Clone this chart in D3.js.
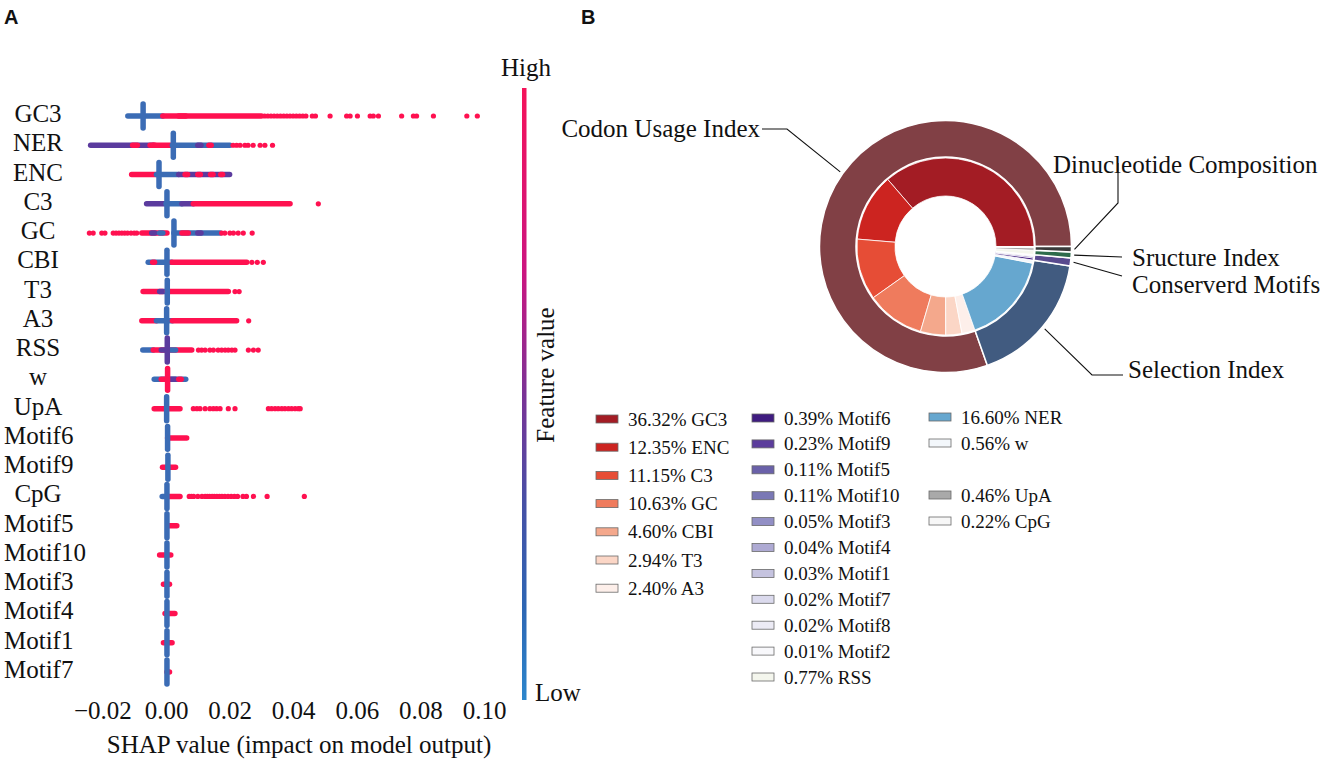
<!DOCTYPE html>
<html>
<head>
<meta charset="utf-8">
<script src="https://cdn.jsdelivr.net/npm/d3@7"></script>
<style>
body { margin: 0; background: #fff; }
svg text { font-family: "Liberation Serif", "Times New Roman", serif; fill: #111; }
svg text.panel { font-family: "Liberation Sans", Arial, sans-serif; font-weight: bold; }
</style>
</head>
<body>
<svg id="chart" width="1325" height="767"></svg>
<script>
// ---- panel A: SHAP summary ----
const features = ['GC3', 'NER', 'ENC', 'C3', 'GC', 'CBI', 'T3', 'A3', 'RSS', 'w', 'UpA',
    'Motif6', 'Motif9', 'CpG', 'Motif5', 'Motif10', 'Motif3', 'Motif4', 'Motif1', 'Motif7'];
const shapTicks = [-0.02, 0.00, 0.02, 0.04, 0.06, 0.08, 0.10];

// dense runs of points per feature: [from, to, tone]  (tone: hi / mid / lo feature value)
const bands = [
    [[-0.0120, -0.0010, 'lo'], [-0.0010, 0.0300, 'hi'], [0.0040, 0.0062, 'hi']],
    [[-0.0237, -0.0040, 'mid'], [-0.0105, -0.0090, 'hi'], [-0.0050, -0.0035, 'hi'], [-0.0040, 0.0020, 'hi'], [0.0020, 0.0201, 'lo'], [0.0100, 0.0110, 'mid'], [0.0135, 0.0142, 'hi']],
    [[-0.0108, -0.0030, 'hi'], [-0.0030, 0.0040, 'lo'], [0.0040, 0.0200, 'mid'], [0.0060, 0.0068, 'hi'], [0.0100, 0.0108, 'hi'], [0.0140, 0.0148, 'hi'], [0.0172, 0.0178, 'hi']],
    [[-0.0061, 0.0000, 'mid'], [0.0000, 0.0050, 'lo'], [0.0050, 0.0086, 'mid'], [0.0086, 0.0390, 'hi']],
    [[-0.0076, 0.0003, 'hi'], [-0.0045, -0.0035, 'mid'], [-0.0020, -0.0010, 'lo'], [0.0025, 0.0170, 'lo'], [0.0050, 0.0070, 'hi'], [0.0100, 0.0110, 'mid']],
    [[-0.0056, 0.0018, 'lo'], [-0.0042, -0.0036, 'hi'], [0.0018, 0.0254, 'hi']],
    [[-0.0072, -0.0010, 'hi'], [-0.0020, 0.0010, 'mid'], [0.0004, 0.0196, 'hi']],
    [[-0.0076, -0.0030, 'hi'], [-0.0030, 0.0020, 'lo'], [0.0020, 0.0222, 'hi']],
    [[-0.0073, -0.0040, 'lo'], [-0.0040, 0.0081, 'hi'], [-0.0015, -0.0005, 'mid'], [0.0015, 0.0030, 'lo']],
    [[-0.0037, 0.0062, 'lo'], [-0.0015, 0.0000, 'hi'], [0.0015, 0.0030, 'mid'], [0.0040, 0.0048, 'hi']],
    [[-0.0037, 0.0044, 'hi']],
    [[0.0005, 0.0065, 'hi']],
    [[-0.0011, 0.0030, 'hi']],
    [[-0.0012, 0.0000, 'lo'], [0.0006, 0.0044, 'hi']],
    [[0.0006, 0.0034, 'hi']],
    [[-0.0020, 0.0015, 'hi']],
    [[-0.0008, 0.0011, 'hi']],
    [[-0.0003, 0.0028, 'hi']],
    [[-0.0008, 0.0019, 'hi']],
    [[0.0003, 0.0011, 'hi']],
];

// where most points stack up, how tall that stack is (relative), and its dominant tone
const pileCenter = [-0.0072, 0.0023, -0.0022, 0.0003, 0.0025, 0.0003, 0.0004, 0.0002, 0.0004, 0.0005,
    0.0002, 0.0005, 0.0006, 0.0003, 0.0003, 0.0003, 0.0003, 0.0003, 0.0003, 0.0003];
const pileHeight = [1, 1, 1, 1, 1, 1, 0.95, 1, 1, 0.9, 1, 0.95, 1, 1, 1, 1, 1, 1, 1, 1];
const pileTone = ['lo', 'lo', 'lo', 'lo', 'lo', 'lo', 'lo', 'lo', 'mid', 'hi',
    'lo', 'lo', 'lo', 'lo', 'lo', 'lo', 'lo', 'lo', 'lo', 'lo'];

// scattered single points (all high feature value)
const dots = [
    [0.031, 0.032, 0.033, 0.034, 0.035, 0.036, 0.037, 0.038, 0.039, 0.040, 0.041, 0.042, 0.043, 0.044, 0.046, 0.047,
        0.0516, 0.0568, 0.0579, 0.0602, 0.0642, 0.0652, 0.0668, 0.0741, 0.0778, 0.0788, 0.0841, 0.0946, 0.0979],
    [0.0211, 0.0222, 0.0233, 0.0248, 0.0258, 0.0274, 0.0296, 0.0311, 0.0335],
    [],
    [0.0479],
    [-0.0241, -0.0229, -0.0202, -0.0192, -0.0166, -0.0157, -0.0148, -0.0139, -0.0130, -0.0121, -0.0110, -0.0100, -0.0092,
        0.0175, 0.0185, 0.0201, 0.0212, 0.0227, 0.0243, 0.0271],
    [0.0270, 0.0287, 0.0306],
    [0.0217, 0.0230],
    [0.0260],
    [0.0102, 0.0112, 0.0123, 0.0138, 0.0149, 0.0164, 0.0175, 0.0186, 0.0196, 0.0207, 0.0217, 0.0259, 0.0275, 0.0290],
    [],
    [0.0086, 0.0097, 0.0107, 0.0123, 0.0138, 0.0149, 0.0159, 0.0170, 0.0196, 0.0217,
        0.0322, 0.0332, 0.0343, 0.0353, 0.0364, 0.0374, 0.0385, 0.0395, 0.0406, 0.0416, 0.0422],
    [],
    [],
    [0.0073, 0.0080, 0.0087, 0.0100, 0.0113, 0.0123, 0.0130, 0.0137, 0.0145, 0.0152, 0.0160, 0.0168, 0.0176,
        0.0185, 0.0195, 0.0205, 0.0215, 0.0225, 0.0242, 0.0253, 0.0275, 0.0318, 0.0435],
    [], [], [], [], [], [],
];

// ---- panel B: importance donut ----
const subNames = ['GC3', 'ENC', 'C3', 'GC', 'CBI', 'T3', 'A3', 'NER', 'w',
    'Motif6', 'Motif9', 'Motif5', 'Motif10', 'Motif3', 'Motif4', 'Motif1', 'Motif7', 'Motif8', 'Motif2',
    'RSS', 'UpA', 'CpG'];
const subShares = [36.32, 12.35, 11.15, 10.63, 4.60, 2.94, 2.40, 16.60, 0.56,
    0.39, 0.23, 0.11, 0.11, 0.05, 0.04, 0.03, 0.02, 0.02, 0.01,
    0.77, 0.46, 0.22];
const subGroups = ['Codon Usage Index', 'Codon Usage Index', 'Codon Usage Index', 'Codon Usage Index',
    'Codon Usage Index', 'Codon Usage Index', 'Codon Usage Index', 'Selection Index', 'Selection Index',
    'Conserverd Motifs', 'Conserverd Motifs', 'Conserverd Motifs', 'Conserverd Motifs', 'Conserverd Motifs',
    'Conserverd Motifs', 'Conserverd Motifs', 'Conserverd Motifs', 'Conserverd Motifs', 'Conserverd Motifs',
    'Sructure Index', 'Dinucleotide Composition', 'Dinucleotide Composition'];
const groupNames = ['Codon Usage Index', 'Selection Index', 'Conserverd Motifs', 'Sructure Index', 'Dinucleotide Composition'];
// legend columns (lists of subNames)
const legendColumns = [
    ['GC3', 'ENC', 'C3', 'GC', 'CBI', 'T3', 'A3'],
    ['Motif6', 'Motif9', 'Motif5', 'Motif10', 'Motif3', 'Motif4', 'Motif1', 'Motif7', 'Motif8', 'Motif2', 'RSS'],
    ['NER', 'w', null, 'UpA', 'CpG'],
];

// styles
const toneColor = { hi: '#ff1150', mid: '#5b3b9e', lo: '#3b6cb5' };
const subColor = {
    GC3: '#a31c24', ENC: '#cc2420', C3: '#e64d36', GC: '#ef7b5d', CBI: '#f4a88c', T3: '#fbd6c6', A3: '#fdefea',
    NER: '#66a7cf', w: '#f3f7fb',
    Motif6: '#3f1c80', Motif9: '#5c3d9c', Motif5: '#6a61a9', Motif10: '#7a78b5', Motif3: '#928fc5',
    Motif4: '#aeaad3', Motif1: '#c5c3df', Motif7: '#dbdaed', Motif8: '#ecebf5', Motif2: '#f8f8fb',
    RSS: '#f4f6ed', UpA: '#a9a9a9', CpG: '#f7f7f7',
};
const groupColor = {
    'Codon Usage Index': '#814045', 'Selection Index': '#415b80', 'Conserverd Motifs': '#584a8e',
    'Sructure Index': '#2d6b4b', 'Dinucleotide Composition': '#3a3a3a',
};

const svg = d3.select('#chart');

// panel letters
svg.append('text').attr('class', 'panel').attr('x', 4).attr('y', 24).attr('font-size', 20).text('A');
svg.append('text').attr('class', 'panel').attr('x', 581).attr('y', 24).attr('font-size', 20).text('B');

// ---------- A ----------
const x = d3.scaleLinear().domain([0, 0.1]).range([166, 484]);
const y = d3.scalePoint().domain(features).range([116, 672]);
const pileScale = d3.scaleLinear().domain([0, 1]).range([0, 24]);

const gA = svg.append('g');

features.forEach((f, i) => {
    const row = gA.append('g');
    bands[i].forEach(([a, b, tone]) => {
        row.append('line')
            .attr('x1', x(a)).attr('x2', x(b))
            .attr('y1', y(f)).attr('y2', y(f))
            .attr('stroke', toneColor[tone])
            .attr('stroke-width', 5.5)
            .attr('stroke-linecap', 'round');
    });
    const h = pileScale(pileHeight[i]);
    row.append('line')
        .attr('x1', x(pileCenter[i])).attr('x2', x(pileCenter[i]))
        .attr('y1', y(f) - h / 2).attr('y2', y(f) + h / 2)
        .attr('stroke', toneColor[pileTone[i]])
        .attr('stroke-width', 5.5)
        .attr('stroke-linecap', 'round');
    row.selectAll('circle')
        .data(dots[i])
        .join('circle')
        .attr('cx', (d) => x(d))
        .attr('cy', y(f))
        .attr('r', 2.6)
        .attr('fill', toneColor.hi);
});

// feature labels
gA.selectAll('text.feat')
    .data(features)
    .join('text')
    .attr('class', 'feat')
    .attr('font-size', 25)
    .attr('y', (d) => y(d) + 6)
    .text((d) => d)
    .each(function () {
        const w = this.getComputedTextLength();
        d3.select(this).attr('x', Math.max(4, 38 - w / 2));
    });

// x axis
const xAxis = d3.axisBottom(x)
    .tickValues(shapTicks)
    .tickFormat(d3.format('.2f'))
    .tickSize(0)
    .tickPadding(6);
const axisG = gA.append('g').attr('transform', 'translate(0,695)').call(xAxis);
axisG.select('.domain').remove();
axisG.selectAll('text')
    .attr('font-size', 25)
    .attr('font-family', '"Liberation Serif", "Times New Roman", serif')
    .attr('fill', '#111');

gA.append('text')
    .attr('x', 299).attr('y', 753)
    .attr('text-anchor', 'middle')
    .attr('font-size', 25)
    .text('SHAP value (impact on model output)');

// colour bar
const defs = svg.append('defs');
const grad = defs.append('linearGradient')
    .attr('id', 'fvgrad').attr('x1', 0).attr('x2', 0).attr('y1', 0).attr('y2', 1);
[['0%', '#f5135a'], ['30%', '#cc1580'], ['50%', '#7b3296'], ['68%', '#4650a6'], ['85%', '#2d66b4'], ['100%', '#2c86cc']]
    .forEach(([o, c]) => grad.append('stop').attr('offset', o).attr('stop-color', c));
gA.append('rect')
    .attr('x', 522).attr('y', 88).attr('width', 4.5).attr('height', 612)
    .attr('fill', 'url(#fvgrad)');
gA.append('text').attr('x', 526).attr('y', 76).attr('text-anchor', 'middle').attr('font-size', 25).text('High');
gA.append('text').attr('x', 535).attr('y', 701).attr('font-size', 25).text('Low');
gA.append('text')
    .attr('transform', 'translate(554,375) rotate(-90)')
    .attr('text-anchor', 'middle')
    .attr('font-size', 25)
    .text('Feature value');

// ---------- B ----------
const cx = 945.5, cy = 246.5;
const gB = svg.append('g').attr('transform', `translate(${cx},${cy})`);

const pie = d3.pie()
    .sort(null)
    .value((d) => d.value)
    .startAngle(Math.PI / 2)
    .endAngle(Math.PI / 2 - 2 * Math.PI);

const subData = subNames.map((name, i) => ({ name, value: subShares[i], group: subGroups[i] }));
const groupSums = d3.rollup(subData, (v) => d3.sum(v, (d) => d.value), (d) => d.group);
const groupData = groupNames.map((name) => ({ name, value: groupSums.get(name) }));

const innerArc = d3.arc().innerRadius(50.5).outerRadius(88.5);
const outerArc = d3.arc().innerRadius(89.5).outerRadius(126);

gB.selectAll('path.sub')
    .data(pie(subData))
    .join('path')
    .attr('class', 'sub')
    .attr('d', innerArc)
    .attr('fill', (d) => subColor[d.data.name])
    .attr('stroke', '#fff')
    .attr('stroke-width', 0.8);

const groupArcs = pie(groupData);
gB.selectAll('path.grp')
    .data(groupArcs)
    .join('path')
    .attr('class', 'grp')
    .attr('d', outerArc)
    .attr('fill', (d) => groupColor[d.data.name])
    .attr('stroke', '#fff')
    .attr('stroke-width', 1.5);

// callouts
const callout = {
    'Codon Usage Index': { pts: [[787, 129], [762, 129]], tx: 760, ty: 137, anchor: 'end' },
    'Selection Index': { pts: [[1092, 375], [1123, 375]], tx: 1128, ty: 378, anchor: 'start' },
    'Conserverd Motifs': { pts: [[1122, 276]], tx: 1132, ty: 293, anchor: 'start' },
    'Sructure Index': { pts: [[1122, 257]], tx: 1132, ty: 266, anchor: 'start' },
    'Dinucleotide Composition': { pts: [[1118, 203], [1118, 163]], tx: 1053, ty: 173, anchor: 'start' },
};
const line = d3.line();
groupArcs.forEach((d) => {
    const c = callout[d.data.name];
    const a = (d.startAngle + d.endAngle) / 2;
    const r = 129;
    const start = [cx + r * Math.sin(a), cy - r * Math.cos(a)];
    svg.append('path')
        .attr('d', line([start, ...c.pts]))
        .attr('fill', 'none')
        .attr('stroke', '#111')
        .attr('stroke-width', 1.1);
    svg.append('text')
        .attr('x', c.tx).attr('y', c.ty)
        .attr('text-anchor', c.anchor)
        .attr('font-size', 25)
        .text(d.data.name);
});

// legend
const legendX = [596, 752, 929];
const legendY0 = [419, 418, 417];
const legendStep = [28.2, 25.9, 26];
const shareOf = new Map(subNames.map((n, i) => [n, subShares[i]]));
legendColumns.forEach((col, ci) => {
    col.forEach((name, ri) => {
        if (!name) return;
        const yy = legendY0[ci] + ri * legendStep[ci];
        svg.append('rect')
            .attr('x', legendX[ci]).attr('y', yy - 4)
            .attr('width', 22).attr('height', 8)
            .attr('fill', subColor[name])
            .attr('stroke', '#6a6a6a')
            .attr('stroke-width', 0.8);
        svg.append('text')
            .attr('x', legendX[ci] + 32).attr('y', yy + 6.5)
            .attr('font-size', 19)
            .text(`${shareOf.get(name).toFixed(2)}% ${name}`);
    });
});
</script>
</body>
</html>
